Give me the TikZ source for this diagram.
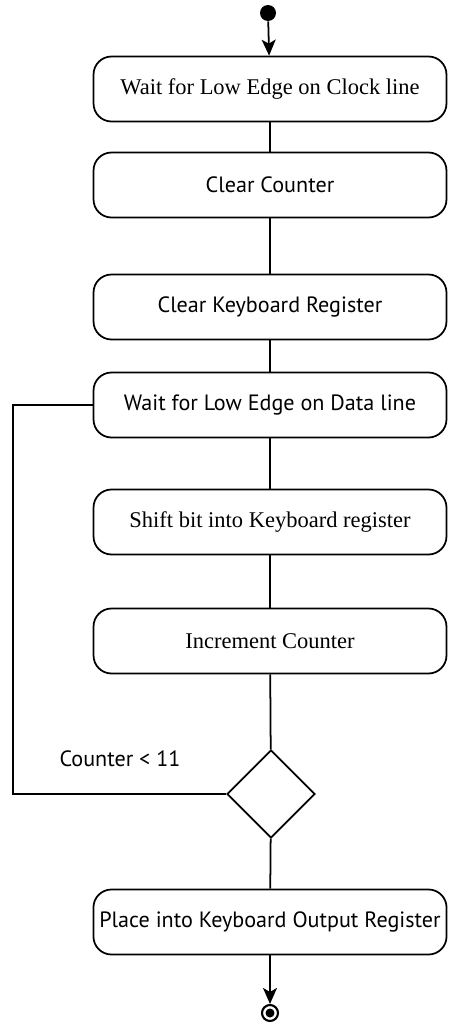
\documentclass[tikz,border=0pt]{standalone}
\usepackage{fontspec}
\setmainfont{Liberation Serif}
\newfontfamily\myriad{PT Sans}
\usetikzlibrary{arrows.meta}
\usetikzlibrary{shapes.geometric}
\tikzset{
  act/.style = {draw, rounded corners=0.36cm, minimum width=7.06cm, minimum height=1.3cm, line width=1pt, font=\fontsize{12.8}{14}\selectfont},
  sansact/.style = {act, font=\myriad\fontsize{12.6}{14}\selectfont},
  decision/.style = {draw, diamond, minimum width=1.76cm, minimum height=1.76cm, inner sep=0pt, line width=1pt},
  initial/.style = {circle, fill, inner sep=0pt, minimum size=0.32cm},
  final/.style = {circle, draw, line width=1.2pt, inner sep=0pt, minimum size=0.32cm,
    path picture={\fill (path picture bounding box.center) circle (0.09cm);}},
  flow/.style = {line width=1pt},
  guard/.style = {font=\myriad\fontsize{12.6}{14}\selectfont}
}

\begin{document}
\begin{tikzpicture}[x=0.02cm,y=-0.02cm,>={Stealth[length=0.32cm,width=0.28cm,inset=0.08cm]}]
\useasboundingbox (0,0) rectangle (450,1024);

\node[initial] (start) at (268,13) {};
\node[act] (clock) at (270,89) {Wait for Low Edge on Clock line};
\node[sansact] (clrcnt) at (270,185) {Clear Counter};
\node[sansact] (clrreg) at (270,307) {Clear Keyboard Register};
\node[sansact] (data) at (270,405) {Wait for Low Edge on Data line};
\node[act] (shift) at (270,522) {Shift bit into Keyboard register};
\node[act] (incr) at (270,641) {Increment Counter};
\node[decision] (test) at (271,794) {};
\node[sansact] (place) at (270,922) {Place into Keyboard Output Register};
\node[final] (stop) at (270,1013) {};

\node[guard] (cond) at (120,759) {Counter < 11};
\coordinate (loopleft) at (13,600);

\draw[flow,->] (start) -- (clock);
\draw[flow] (clock) -- (clrcnt);
\draw[flow] (clrcnt) -- (clrreg);
\draw[flow] (clrreg) -- (data);
\draw[flow] (data) -- (shift);
\draw[flow] (shift) -- (incr);
\draw[flow] (incr) -- (test);
\draw[flow] (test) -- (place);
\draw[flow,->] (place) -- (stop);
% back to the data line
\draw[flow] (test.west) -| (loopleft) |- (data.west);
\end{tikzpicture}
\end{document}
